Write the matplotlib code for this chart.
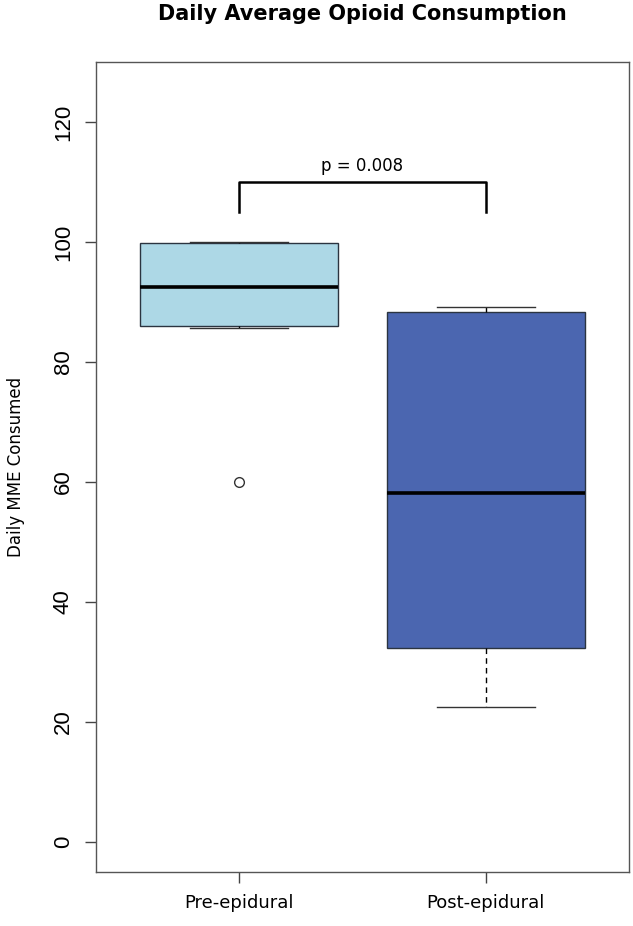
import matplotlib.pyplot as plt

groups = ["Pre-epidural", "Post-epidural"]
medians = [92.5, 58.1]
q1 = [86.0, 32.3]
q3 = [99.8, 88.4]
whisk_lo = [85.7, 22.5]
whisk_hi = [100.0, 89.2]
outliers = [[60.0], []]
box_colors = ["#ADD8E6", "#4B66B0"]
p_text = "p = 0.008"
bracket_y = 110
bracket_leg = 105

fig = plt.figure(figsize=(6.33, 9.26), dpi=100)
ax = fig.add_axes([0.1517, 0.0583, 0.8420, 0.8747])

stats = []
for i, g in enumerate(groups):
    stats.append(dict(label=g, med=medians[i], q1=q1[i], q3=q3[i],
                      whislo=whisk_lo[i], whishi=whisk_hi[i], fliers=outliers[i]))

bp = ax.bxp(stats, positions=[1, 2], widths=0.8, patch_artist=True,
            boxprops=dict(edgecolor="#2b3440", linewidth=1.0),
            medianprops=dict(color="black", linewidth=2.6),
            whiskerprops=dict(color="black", linewidth=1.0, linestyle=(0, (4, 3))),
            capprops=dict(color="#333333", linewidth=1.0),
            capwidths=0.4,
            flierprops=dict(marker="o", markerfacecolor="none", markeredgecolor="#333333",
                            markersize=7, markeredgewidth=1.0))
for patch, c in zip(bp["boxes"], box_colors):
    patch.set_facecolor(c)

# significance bracket
ax.plot([1, 1, 2, 2], [bracket_leg, bracket_y, bracket_y, bracket_leg], color="black", lw=1.8)
ax.text(1.5, bracket_y + 1.2, p_text, ha="center", va="bottom", fontsize=12)

ax.set_xlim(0.42, 2.58)
ax.set_ylim(-5, 130)
ax.set_yticks([0, 20, 40, 60, 80, 100, 120])
ax.tick_params(axis="both", direction="out", length=8, width=1, color="#444444", labelsize=13, pad=8)
ax.set_yticklabels(["0", "20", "40", "60", "80", "100", "120"], rotation=90, va="center",
                   fontfamily="Liberation Sans", fontsize=16)
ax.set_xticks([1, 2])
ax.set_xticklabels(groups, fontsize=13)
for s in ax.spines.values():
    s.set_color("#555555")
    s.set_linewidth(1.0)

ax.set_ylabel("Daily MME Consumed", fontsize=12, labelpad=20)
ax.set_title("Daily Average Opioid Consumption", fontsize=15, fontweight="bold", pad=30)

fig.savefig("out.png", dpi=100)
